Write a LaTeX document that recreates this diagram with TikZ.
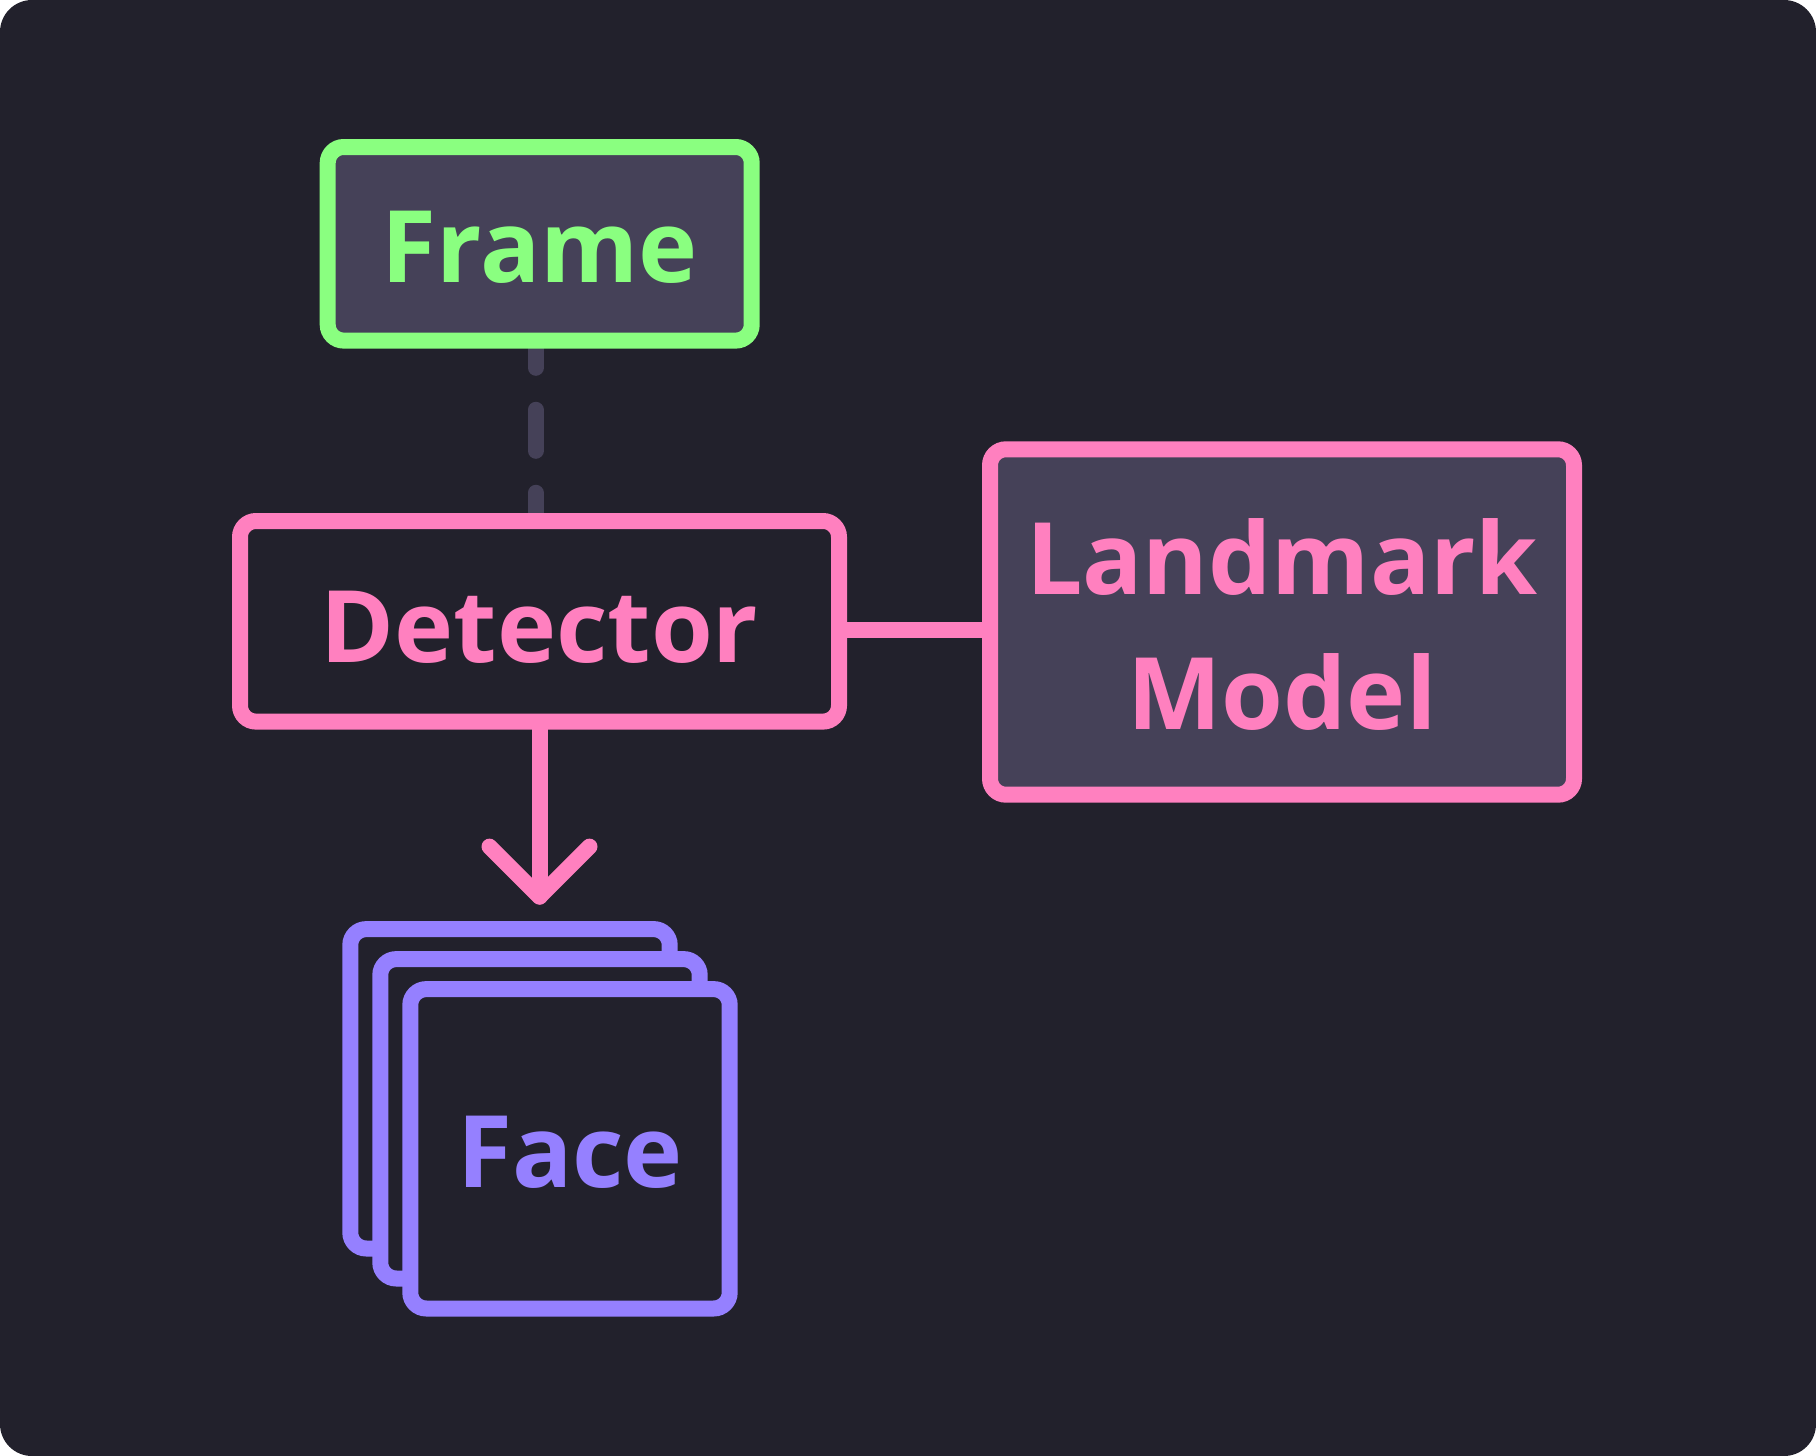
\documentclass[tikz,border=0pt]{standalone}
\usepackage{fontspec}
\setmainfont{Open Sans}
\pgfdeclarelayer{back}
\pgfdeclarelayer{mid}
\pgfsetlayers{back,mid,main}
\definecolor{bgc}{HTML}{22212C}
\definecolor{fillc}{HTML}{454158}
\definecolor{greenc}{HTML}{8AFF80}
\definecolor{pinkc}{HTML}{FF80BF}
\definecolor{purplec}{HTML}{9580FF}
\newcommand\lowertxt[2]{\raisebox{-#1}[\height][\depth]{#2}}
\tikzset{
  box/.style={draw, rounded corners=8pt, line width=8pt, outer sep=0pt, inner sep=0pt,
    font=\fontsize{50}{67.75}\selectfont\bfseries, align=center},
  framebox/.style={box, draw=greenc, fill=fillc, text=greenc},
  pinkbox/.style={box, draw=pinkc, text=pinkc},
  facebox/.style={box, draw=purplec, fill=bgc, text=purplec, minimum width=159.7pt, minimum height=159.7pt},
  conn/.style={draw=pinkc, line width=8pt, line cap=round, line join=round},
  dashconn/.style={draw=fillc, line width=8pt, line cap=round, dash pattern=on 20.5pt off 21pt}
}
\begin{document}
\begin{tikzpicture}[x=0.5pt,y=-0.5pt]
\useasboundingbox (0,0) rectangle (1816,1456);
\begin{pgfonlayer}{back}
\fill[white] (0,0) rectangle (1816,1456);
\fill[bgc, rounded corners=16pt] (0,0) rectangle (1816,1456);
\end{pgfonlayer}

\node[framebox, minimum width=212pt, minimum height=96.8pt] (frame) at (539.7,243.8) {\lowertxt{1.7pt}{Frame}};
\node[pinkbox, fill=bgc, minimum width=299.5pt, minimum height=100.3pt] (det) at (539.5,621.3) {\lowertxt{2.8pt}{Detector}};
\node[pinkbox, fill=fillc, minimum width=292pt, minimum height=172.7pt] (lm) at (1282,622) {\lowertxt{1.2pt}{Landmark}\\\lowertxt{1.2pt}{Model}};

\node[facebox] (face3) at (510,1088.8) {};
\node[facebox] (face2) at (540,1118.8) {};
\node[facebox] (face1) at (570,1148.8) {\lowertxt{1.7pt}{Face}};

\coordinate (tip) at (539.5,896.6);
\begin{pgfonlayer}{mid}
\draw[dashconn] ([xshift=-2pt]frame.center) -- ([xshift=-2pt]frame.center |- det.center);
\draw[conn] ([yshift=-4.3pt]det.east) -- ([yshift=-4.3pt]det.east -| lm.west);
\draw[conn] (det.south) -- (tip);
\draw[conn] (tip) ++(-50,-50) -- (tip) -- ++(50,-50);
\end{pgfonlayer}
\end{tikzpicture}
\end{document}
